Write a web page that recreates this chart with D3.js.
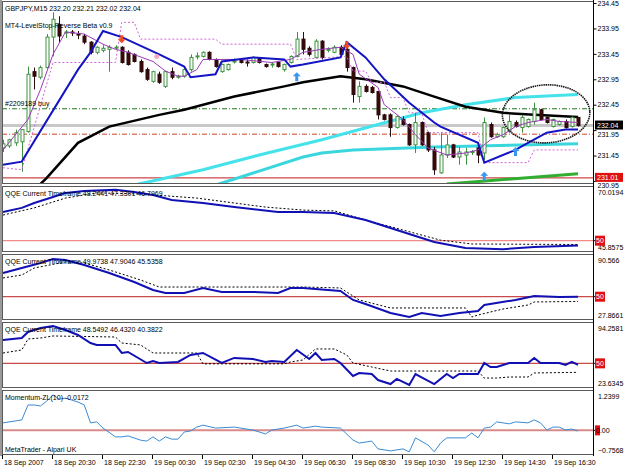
<!DOCTYPE html>
<html>
<head>
<meta charset="utf-8">
<script src="https://cdn.jsdelivr.net/npm/d3@7"></script>
<style>
body { margin: 0; background: #fff; }
text { font-family: "Liberation Sans", Arial, sans-serif; font-size: 7px; fill: #000; }
</style>
</head>
<body>
<div id="chart"></div>
<script>
// ---- data (GBPJPY M15, 93 bars, 18 Sep 18:30 .. 19 Sep 17:30) ----
var timeLabels = ["18 Sep 2007", "18 Sep 20:30", "18 Sep 22:30", "19 Sep 00:30", "19 Sep 02:30", "19 Sep 04:30",
  "19 Sep 06:30", "19 Sep 08:30", "19 Sep 10:30", "19 Sep 12:30", "19 Sep 14:30", "19 Sep 16:30"];
var timeLabelBars = [0, 8, 16, 24, 32, 40, 48, 56, 64, 72, 80, 88];

var opens = [231.60,231.64,231.70,231.72,231.92,233.10,232.99,233.18,233.78,234.03,233.86,233.88,233.84,233.80,233.68,233.48,
  233.52,233.54,233.58,233.58,233.48,233.44,233.30,233.14,232.91,233.05,232.81,233.10,233.00,233.01,233.14,233.39,
  233.40,233.48,233.34,233.10,233.14,233.30,233.34,233.29,233.28,233.36,233.24,233.24,233.28,233.14,233.28,233.40,
  233.74,233.56,233.38,233.70,233.52,233.48,233.58,233.54,233.18,232.61,232.81,232.79,232.71,232.25,232.25,232.00,
  232.16,232.06,231.66,232.10,231.90,231.56,231.11,231.46,231.66,231.42,231.46,231.52,231.60,231.50,232.06,231.82,
  231.82,231.92,232.10,232.00,232.02,232.12,232.35,232.20,232.02,232.06,232.12,232.02,232.20];
var highs = [231.76,231.78,231.96,231.97,233.20,233.18,233.22,233.84,234.27,234.19,233.92,233.92,233.90,233.84,233.70,233.60,
  233.62,233.62,233.62,233.60,233.52,233.46,233.34,233.18,233.12,233.10,233.12,233.18,233.04,233.18,233.44,233.48,
  233.50,233.50,233.36,233.26,233.26,233.36,233.36,233.34,233.40,233.38,233.26,233.28,233.30,233.26,233.42,233.88,
  233.88,233.60,233.74,233.72,233.58,233.62,233.62,233.68,233.20,232.91,232.85,232.82,232.72,232.27,232.28,232.24,
  232.22,232.08,232.29,232.12,231.92,231.62,231.90,231.86,231.68,231.62,231.60,231.56,231.62,232.20,232.10,231.90,
  232.02,232.25,232.14,232.25,232.18,232.49,232.37,232.22,232.18,232.14,232.16,232.22,232.21];
var lows = [231.52,231.60,231.64,231.13,231.90,232.75,232.95,233.16,233.40,233.68,233.76,233.80,233.74,233.64,233.44,233.44,
  233.48,233.10,233.54,233.26,233.22,233.28,233.08,232.92,232.88,232.86,232.78,232.95,232.96,232.98,233.10,233.34,
  233.38,233.32,233.18,233.08,233.12,233.26,233.26,233.20,233.26,233.26,233.18,233.18,233.18,233.10,233.26,233.38,
  233.44,233.40,233.36,233.34,233.48,233.46,233.42,233.10,232.49,232.49,232.69,232.67,232.16,232.14,231.82,231.98,
  232.04,231.64,231.50,231.64,231.52,231.07,231.09,231.40,231.40,231.27,231.27,231.46,231.30,231.36,231.80,231.80,
  231.80,231.90,232.00,231.90,232.00,232.06,232.14,232.08,232.00,232.04,231.98,232.00,232.02];
var closes = [231.68,231.76,231.90,231.96,233.05,233.01,233.18,233.78,234.13,233.80,233.88,233.86,233.82,233.68,233.48,233.58,
  233.56,233.58,233.58,233.28,233.24,233.30,233.10,232.95,233.10,232.89,233.10,232.99,233.01,233.14,233.38,233.41,
  233.48,233.34,233.20,233.24,233.24,233.31,233.28,233.28,233.38,233.28,233.20,233.25,233.20,233.24,233.40,233.74,
  233.54,233.44,233.70,233.38,233.54,233.58,233.44,233.18,232.65,232.81,232.71,232.69,232.25,232.16,232.00,232.22,
  232.06,231.66,232.10,231.66,231.56,231.17,231.46,231.66,231.42,231.52,231.52,231.53,231.46,232.10,231.82,231.86,
  232.00,232.12,232.02,232.20,232.16,232.35,232.16,232.10,232.16,232.12,232.00,232.20,232.04];

// main-window indicator lines: [bar, price]
var fastMa = [[0,231.56],[4,232.16],[6,232.75],[8,233.44],[10,233.88],[13,233.84],[16,233.64],[18,233.54],[20,233.48],
  [24,233.30],[26,233.11],[28,233.01],[29,233.01],[31,233.14],[32,233.34],[38,233.34],[43,233.28],[46,233.34],[48,233.48],
  [51,233.54],[54,233.58],[56,233.44],[57,233.05],[60,232.79],[61,232.45],[64,232.16],[66,231.86],[68,231.60],[71,231.46],
  [74,231.50],[76,231.56],[78,231.76],[80,231.86],[82,232.02],[84,232.10],[87,232.16],[89,232.12],[92,232.10]];
var stopLine = [[0,231.27],[3,231.33],[12,233.14],[14,233.48],[16,233.90],[19,233.78],[25,233.44],[29,233.20],[30,232.99],
  [34,233.05],[35,233.30],[40,233.38],[45,233.34],[46,233.20],[48,233.24],[54,233.38],[55,233.68],[58,233.38],[61,232.95],
  [65,232.49],[69,232.10],[70,232.02],[76,231.70],[77,231.31],[82,231.56],[84,231.70],[87,231.90],[90,231.96],[92,231.96]];
var stopDots = [[0,231.21],[3,231.17],[8,233.28],[18,233.28],[19,234.07],[21,234.07],[22,233.74],[34,233.74],[35,233.64],
  [46,233.64],[47,233.34],[55,233.40],[56,233.11],[58,233.11],[59,232.89],[61,232.89],[62,232.59],[64,232.59],[65,232.29],
  [67,232.29],[68,231.90],[76,231.90],[77,231.31],[84,231.31],[85,231.56],[92,231.56]];
var slowMa = [[6,230.89],[7,231.01],[12,231.70],[17,232.02],[25,232.25],[29,232.35],[37,232.61],[45,232.81],[48,232.89],
  [54,233.01],[58,232.95],[64,232.81],[69,232.61],[74,232.41],[80,232.29],[85,232.25],[92,232.21]];
var cyanUpper = [[21,230.87],[32,231.17],[41,231.46],[51,231.76],[60,232.06],[67,232.29],[74,232.45],[82,232.59],[92,232.65]];
var cyanLower = [[33,230.83],[48,231.42],[51,231.50],[56,231.56],[69,231.62],[92,231.68]];
var greenTrend = [[71,230.89],[92,231.09]];

var orderBuy = 232.37, bidPrice = 232.04, stopLevel = 231.87, lowLevel = 231.01;
var upArrows = [[47,233.09],[77,231.13],[82,231.62]];
var downArrows = [[19,233.66],[55,233.54]];
var pinkDots = [[24.6,233.40]];
var circleNote = { bar: 86.9, price: 232.27, barRadius: 7.0, priceRadius: 0.57 };
var priceTicks = [234.45, 233.95, 233.45, 232.95, 232.45, 231.95, 231.45, 230.95];
var coveredTicks = [231.95, 230.95];

// QQE windows: [bar, value]
var qqe1Main = [[0,60.5],[3,62.0],[5,63.8],[8,66.0],[10,67.5],[13,68.2],[18,68.6],[21,67.8],[24,66.7],[27,64.9],[32,63.8],
  [37,62.3],[44,60.5],[48,60.5],[53,60.1],[58,57.6],[64,53.2],[69,49.5],[74,47.3],[80,46.9],[85,47.7],[92,48.2]];
var qqe1Trail = [[0,59.4],[5,62.0],[10,65.6],[15,67.5],[22,67.1],[31,65.6],[42,62.3],[48,61.2],[53,60.9],[58,57.6],
  [64,53.9],[70,50.2],[75,48.8],[92,48.6]];
var qqe2Main = [[0,72.5],[3,77.3],[6,82.0],[8,85.8],[10,84.9],[13,80.1],[17,72.5],[21,64.0],[24,56.4],[26,53.5],[29,53.5],
  [32,58.3],[35,54.5],[40,54.5],[44,53.5],[46,58.3],[48,58.3],[54,55.4],[56,46.9],[58,43.1],[62,34.5],[65,30.7],[67,34.5],
  [70,31.7],[73,34.5],[76,36.4],[77,42.1],[82,46.9],[85,50.7],[89,49.7],[92,49.97]];
var qqe2Trail = [[0,67.8],[3,70.6],[5,77.3],[10,83.0],[13,82.0],[17,75.4],[22,65.9],[25,59.2],[48,59.2],[54,58.3],[57,46.9],
  [62,39.3],[74,39.3],[75,30.7],[76,32.6],[80,38.3],[84,42.1],[85,45.0],[92,45.5]];
var qqe3Main = [[0,75.0],[3,77.1],[4,83.6],[6,87.8],[8,90.0],[10,85.7],[12,80.4],[14,71.8],[15,69.7],[18,69.7],[19,61.1],
  [20,62.2],[23,50.4],[24,52.6],[25,50.4],[28,51.5],[30,59.0],[32,61.1],[35,50.4],[37,55.8],[40,54.7],[42,51.5],[43,52.6],
  [45,51.5],[47,64.3],[49,54.7],[50,61.1],[51,53.6],[53,54.7],[54,50.4],[56,36.5],[57,39.7],[59,38.6],[60,32.2],[62,27.9],
  [63,33.3],[65,26.9],[66,38.6],[69,27.9],[71,38.6],[72,34.3],[73,38.6],[76,38.6],[77,50.4],[78,46.1],[79,46.1],[81,50.4],
  [84,50.4],[85,55.8],[86,50.4],[89,50.4],[90,48.3],[91,51.5],[92,48.5]];
var qqe3Trail = [[0,61.1],[3,64.3],[4,76.1],[6,77.1],[8,79.3],[18,78.2],[19,71.8],[22,69.7],[24,61.1],[31,61.1],[32,49.5],
  [45,49.5],[46,51.5],[48,53.6],[50,65.4],[53,65.4],[55,59.0],[56,50.4],[59,46.1],[62,41.8],[76,41.8],[77,34.3],[79,34.3],
  [81,35.4],[84,35.4],[85,39.7],[92,40.4]];
var momentum = [[0,0.23],[3,0.32],[4,0.78],[5,0.78],[6,0.75],[7,0.90],[8,1.09],[9,0.96],[10,0.99],[11,0.93],[12,0.87],
  [13,0.78],[14,0.23],[15,0.26],[16,0.07],[18,-0.20],[19,-0.20],[20,-0.17],[22,-0.30],[23,-0.33],[24,-0.20],[25,-0.33],
  [26,-0.20],[27,-0.27],[28,-0.27],[29,-0.05],[30,-0.02],[31,0.10],[32,0.16],[34,0.07],[37,0.10],[40,0.01],[42,-0.11],
  [43,0.01],[45,0.07],[47,0.16],[48,0.07],[50,0.13],[51,0.10],[54,0.07],[56,-0.30],[57,-0.39],[59,-0.33],[60,-0.57],
  [62,-0.63],[64,-0.57],[65,-0.66],[66,-0.23],[68,-0.45],[69,-0.66],[70,-0.39],[71,-0.23],[74,-0.23],[75,-0.08],[76,-0.23],
  [77,0.07],[78,0.10],[79,0.26],[81,0.20],[82,0.26],[84,0.23],[85,0.32],[86,0.23],[87,0.01],[88,0.10],[89,0.10],[90,0.01],
  [91,0.04],[92,-0.02]];

// ---- layout ----
var W = 625, H = 469, left = 2, right = 594;
var svg = d3.select("#chart").append("svg").attr("width", W).attr("height", H);

var x = d3.scaleLinear().domain([0, 92]).range([3, 578]);

var panels = [
  { id: "main", top: 1, bottom: 184, domain: [230.89, 234.49] },
  { id: "q1", top: 186, bottom: 252, domain: [45.8575, 70.0194], level: 50, levelColor: "#f08a8a",
    label: "QQE Current Timeframe 48.2441 47.3301 46.7969", main: qqe1Main, trail: qqe1Trail, fmt: ".4f" },
  { id: "q2", top: 254, bottom: 320, domain: [27.8661, 90.566], level: 50, levelColor: "#c84a4a",
    label: "QQE Current Timeframe 49.9738 47.9046 45.5358", main: qqe2Main, trail: qqe2Trail, fmt: ".4~f" },
  { id: "q3", top: 322, bottom: 388, domain: [23.6345, 94.2581], level: 50, levelColor: "#c84a4a",
    label: "QQE Current Timeframe 48.5492 46.4320 40.3822", main: qqe3Main, trail: qqe3Trail, fmt: ".4f" },
  { id: "mom", top: 390, bottom: 455, domain: [-0.7568, 1.2399], level: 0, levelColor: "#d98a8a",
    label: "Momentum-ZL(10) -0.0172", fmt: ".4f" }
];
panels.forEach(function (p) {
  p.y = d3.scaleLinear().domain(p.domain).range([p.bottom, p.top]);
  svg.append("clipPath").attr("id", "clip-" + p.id)
    .append("rect").attr("x", left).attr("y", p.top).attr("width", right - left).attr("height", p.bottom - p.top);
  p.g = svg.append("g").attr("clip-path", "url(#clip-" + p.id + ")");
});

function series(y) {
  return d3.line().x(function (d) { return x(d[0]); }).y(function (d) { return y(d[1]); });
}

// ---- main window ----
var pm = panels[0], ym = pm.y, gm = pm.g;

function hline(price, color, width, dash) {
  gm.append("line").attr("x1", left).attr("x2", right).attr("y1", ym(price)).attr("y2", ym(price))
    .style("stroke", color).style("stroke-width", width).style("stroke-dasharray", dash || null);
}
hline(orderBuy, "#1f7a1f", 1, "5,2,1,2");
hline(bidPrice, "#c8c8c8", 3);
hline(stopLevel, "#d0452a", 1, "5,2,1,2");
hline(lowLevel, "#c01818", 1);

gm.append("path").datum(greenTrend).attr("d", series(ym)).style("fill", "none").style("stroke", "#2fae2f").style("stroke-width", 3);
gm.append("path").datum(cyanLower).attr("d", series(ym)).style("fill", "none").style("stroke", "#3ad6de").style("stroke-width", 3);
gm.append("path").datum(cyanUpper).attr("d", series(ym)).style("fill", "none").style("stroke", "#44e2ea").style("stroke-width", 3);
gm.append("path").datum(slowMa).attr("d", series(ym)).style("fill", "none").style("stroke", "#000").style("stroke-width", 2.5);

// candles
var bars = d3.range(opens.length).map(function (i) {
  return { i: i, o: opens[i], h: highs[i], l: lows[i], c: closes[i] };
});
var candle = gm.selectAll("g.candle").data(bars).enter().append("g").attr("class", "candle");
candle.append("line")
  .attr("x1", function (d) { return Math.round(x(d.i)) + 0.5; })
  .attr("x2", function (d) { return Math.round(x(d.i)) + 0.5; })
  .attr("y1", function (d) { return ym(d.h); })
  .attr("y2", function (d) { return ym(d.l); })
  .style("stroke", function (d) { return d.c >= d.o ? "#3f913f" : "#2a0c0c"; })
  .style("stroke-width", 1);
candle.append("rect")
  .attr("x", function (d) { return Math.round(x(d.i)) - 1; })
  .attr("width", 3)
  .attr("y", function (d) { return ym(Math.max(d.o, d.c)); })
  .attr("height", function (d) { return Math.max(1, Math.abs(ym(d.o) - ym(d.c))); })
  .style("fill", function (d) { return d.c >= d.o ? "#ffffff" : "#3a0808"; })
  .style("stroke", function (d) { return d.c >= d.o ? "#3f913f" : "#2a0c0c"; })
  .style("stroke-width", 1);

gm.append("path").datum(stopDots).attr("d", series(ym)).style("fill", "none").style("stroke", "#d065d8")
  .style("stroke-width", 1).style("stroke-dasharray", "2,2");
gm.append("path").datum(fastMa).attr("d", series(ym)).style("fill", "none").style("stroke", "#9a3ab8").style("stroke-width", 1);
gm.append("path").datum(stopLine).attr("d", series(ym)).style("fill", "none").style("stroke", "#1414c4").style("stroke-width", 2);

// signal arrows
gm.selectAll("path.up").data(upArrows).enter().append("path").attr("class", "up")
  .attr("transform", function (d) { return "translate(" + x(d[0]) + "," + ym(d[1]) + ")"; })
  .attr("d", "M0,0 L4,4 L1.5,4 L1.5,9 L-1.5,9 L-1.5,4 L-4,4 Z")
  .style("fill", "#3a96f0");
gm.selectAll("path.down").data(downArrows).enter().append("path").attr("class", "down")
  .attr("transform", function (d) { return "translate(" + x(d[0]) + "," + ym(d[1]) + ")"; })
  .attr("d", "M0,0 L4,-4 L1.5,-4 L1.5,-8 L-1.5,-8 L-1.5,-4 L-4,-4 Z")
  .style("fill", "#f04a1e");
gm.selectAll("circle.dot").data(pinkDots).enter().append("circle")
  .attr("cx", function (d) { return x(d[0]); }).attr("cy", function (d) { return ym(d[1]); })
  .attr("r", 2.5).style("fill", "#f7a9c4");

// hand drawn circle
var cx = x(circleNote.bar), cy = ym(circleNote.price);
gm.append("ellipse").attr("cx", cx).attr("cy", cy)
  .attr("rx", x(circleNote.bar + circleNote.barRadius) - cx)
  .attr("ry", ym(circleNote.price - circleNote.priceRadius) - cy)
  .attr("transform", "rotate(-3," + cx + "," + cy + ")")
  .style("fill", "none").style("stroke", "#1a1a1a").style("stroke-width", 1.6).style("stroke-dasharray", "1.5,0.7");

svg.append("text").attr("x", 5).attr("y", 11).text("GBPJPY,M15 232.20 232.21 232.02 232.04");
svg.append("text").attr("x", 5).attr("y", 28).text("MT4-LevelStop-Reverse Beta v0.9");
svg.append("text").attr("x", 5).attr("y", ym(orderBuy) - 2.5).text("#2209189 buy");

// ---- indicator windows ----
panels.slice(1).forEach(function (p) {
  p.g.append("line").attr("x1", left).attr("x2", right).attr("y1", p.y(p.level)).attr("y2", p.y(p.level))
    .style("stroke", p.levelColor).style("stroke-width", p.id === "mom" ? 2 : 1.2);
  if (p.trail) {
    p.g.append("path").datum(p.trail).attr("d", series(p.y)).style("fill", "none")
      .style("stroke", "#000").style("stroke-width", 1).style("stroke-dasharray", "2,2");
    p.g.append("path").datum(p.main).attr("d", series(p.y)).style("fill", "none")
      .style("stroke", "#1010b4").style("stroke-width", 2);
  } else {
    p.g.append("path").datum(momentum).attr("d", series(p.y)).style("fill", "none")
      .style("stroke", "#3b8bd4").style("stroke-width", 1);
  }
  svg.append("text").attr("x", 5).attr("y", p.top + 10).text(p.label);
});
svg.append("text").attr("x", 5).attr("y", 452).text("MetaTrader - Alpari UK");

// ---- frames ----
panels.forEach(function (p) {
  svg.append("rect").attr("x", left + 0.5).attr("y", p.top + 0.5).attr("width", right - left - 1).attr("height", p.bottom - p.top - 1)
    .style("fill", "none").style("stroke", "#5a5a5a").style("stroke-width", 1);
});
svg.append("line").attr("x1", 1).attr("x2", 1).attr("y1", 0).attr("y2", 456).style("stroke", "#9a9a9a").style("stroke-width", 2);

// ---- price axis ----
var axisMain = d3.axisRight(ym).tickValues(priceTicks).tickSize(3).tickSizeOuter(0).tickFormat(d3.format(".2f"));
var ax = svg.append("g").attr("transform", "translate(" + (right - 0.5) + ",0)").call(axisMain);
ax.select(".domain").remove();
ax.selectAll("text").attr("x", 4).style("font-family", "Liberation Sans, Arial, sans-serif").style("font-size", "7px")
  .attr("dy", function (d) { return coveredTicks.indexOf(d) >= 0 ? "0.95em" : "0.32em"; });
ax.selectAll("line").style("stroke", "#000");

function priceBox(price, bg, label) {
  var yy = ym(price);
  svg.append("rect").attr("x", right + 1).attr("y", yy - 5).attr("width", 28).attr("height", 9).style("fill", bg);
  svg.append("text").attr("x", right + 3).attr("y", yy + 2.2).style("fill", "#fff").text(label);
}
priceBox(bidPrice, "#000", "232.04");
priceBox(lowLevel, "#e01010", "231.01");

panels.slice(1).forEach(function (p) {
  var f = d3.format(p.fmt);
  svg.append("text").attr("x", right + 4).attr("y", p.top + 9).text(f(p.domain[1]));
  svg.append("text").attr("x", right + 4).attr("y", p.bottom - 2).text(f(p.domain[0]));
  var ly = p.y(p.level);
  svg.append("line").attr("x1", right).attr("x2", right + 3).attr("y1", ly).attr("y2", ly).style("stroke", "#000");
  svg.append("rect").attr("x", right + 1).attr("y", ly - 5).attr("width", p.id === "mom" ? 5 : 10).attr("height", 10).style("fill", "#e01010");
  svg.append("text").attr("x", right + 2).attr("y", ly + 2.5).style("fill", p.id === "mom" ? "#000" : "#fff")
    .text(p.id === "mom" ? "0.00" : "50");
});

// right axis line
svg.append("line").attr("x1", right - 0.5).attr("x2", right - 0.5).attr("y1", 0).attr("y2", 456).style("stroke", "#000");

// ---- time axis ----
var tg = svg.append("g");
timeLabelBars.forEach(function (b, k) {
  var tx = Math.round(x(b)) - 1;
  tg.append("line").attr("x1", tx + 0.5).attr("x2", tx + 0.5).attr("y1", 455).attr("y2", 459).style("stroke", "#000");
  tg.append("text").attr("x", tx + 2).attr("y", 465).text(timeLabels[k]);
});
</script>
</body>
</html>
